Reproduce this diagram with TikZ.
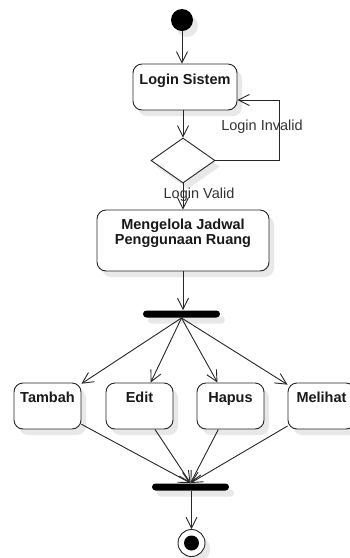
\documentclass[tikz,border=0pt]{standalone}
\usepackage{fontspec}
\setmainfont{Liberation Sans}
\usetikzlibrary{arrows.meta,shapes.geometric,shadows}

\begin{document}
\begin{tikzpicture}[x=1pt,y=-1pt,
  line width=0.9pt,
  softshadow/.style={drop shadow={shadow xshift=5pt,shadow yshift=-6pt,fill=black!9,opacity=1}},
  act/.style={draw=black!85, rounded corners=9pt, fill=white, softshadow, inner sep=0},
  actbox/.style={act, minimum width=67pt, minimum height=46pt},
  lbl/.style={font=\fontsize{14.5}{15}\selectfont\bfseries, inner sep=0, align=center, text=black!90},
  guard/.style={font=\fontsize{14.5}{15}\selectfont, inner sep=0, text=black!80},
  flow/.style={draw=black!85, -{Straight Barb[length=11pt,width=11pt]}},
  syncbar/.style={fill=black, draw=none, rounded corners=3.5pt, minimum width=77pt, minimum height=7pt, inner sep=0, softshadow},
]
\useasboundingbox (0,0) rectangle (349,558);

% initial node
\node[circle, fill=black, minimum size=22pt, inner sep=0, softshadow] (start) at (182,20) {};

% login activity and decision
\node[act, minimum width=104pt, minimum height=46pt] (login) at (185,87) {};
\node[lbl, anchor=base] (loginT) at ([yshift=-21pt]login.north) {Login Sistem};
\node[diamond, draw=black!85, fill=white, minimum width=64pt, minimum height=45pt, inner sep=0, softshadow] (dia) at (183,160.5) {};
\coordinate (inv) at (279,100);

\draw[flow] (start) -- (start |- login.north);
\draw[flow] (login.south -| dia) -- (dia.north);
\draw[flow] (dia.east) -- (dia.east -| inv) -- (inv) -- (inv -| login.east);
\node[guard] (invT) at (262,127) {Login Invalid};

% schedule management (base anchor sits on the second line)
\node[act, minimum width=172pt, minimum height=61pt] (manage) at (183,240.5) {};
\node[lbl, anchor=base] (manageT) at ([yshift=-35pt]manage.north) {Mengelola Jadwal\\Penggunaan Ruang};
\draw[flow] (dia.south) -- (manage.north);
\node[guard] (valT) at (199,195) {Login Valid};

% fork
\node[syncbar] (fork) at (181.5,314) {};
\draw[flow] (manage.south) -- (manage.south |- fork.north);

% parallel actions
\node[actbox] (tambah) at (47.5,406) {};
\node[actbox] (edit) at (139.5,406) {};
\node[actbox] (hapus) at (230.5,406) {};
\node[actbox] (melihat) at (321.5,406) {};
\foreach \n/\t in {tambah/Tambah, edit/Edit, hapus/Hapus, melihat/Melihat}
  \node[lbl, anchor=base] (\n T) at ([yshift=-20pt]\n.north) {\t};

\foreach \n in {tambah, edit, hapus, melihat}
  \draw[flow] (fork.south) -- (\n);

% join and final node
\node[syncbar] (join) at (190.5,487) {};
\foreach \n in {tambah, edit, hapus, melihat}
  \draw[flow] (\n) -- (join.north);

\node[circle, draw=black!85, fill=white, minimum size=27pt, inner sep=0, softshadow] (end) at (191.5,543) {};
\node[circle, fill=black, minimum size=15pt, inner sep=0] (endDot) at (end) {};
\draw[flow] (join.south -| end) -- (end.north);
\end{tikzpicture}
\end{document}
